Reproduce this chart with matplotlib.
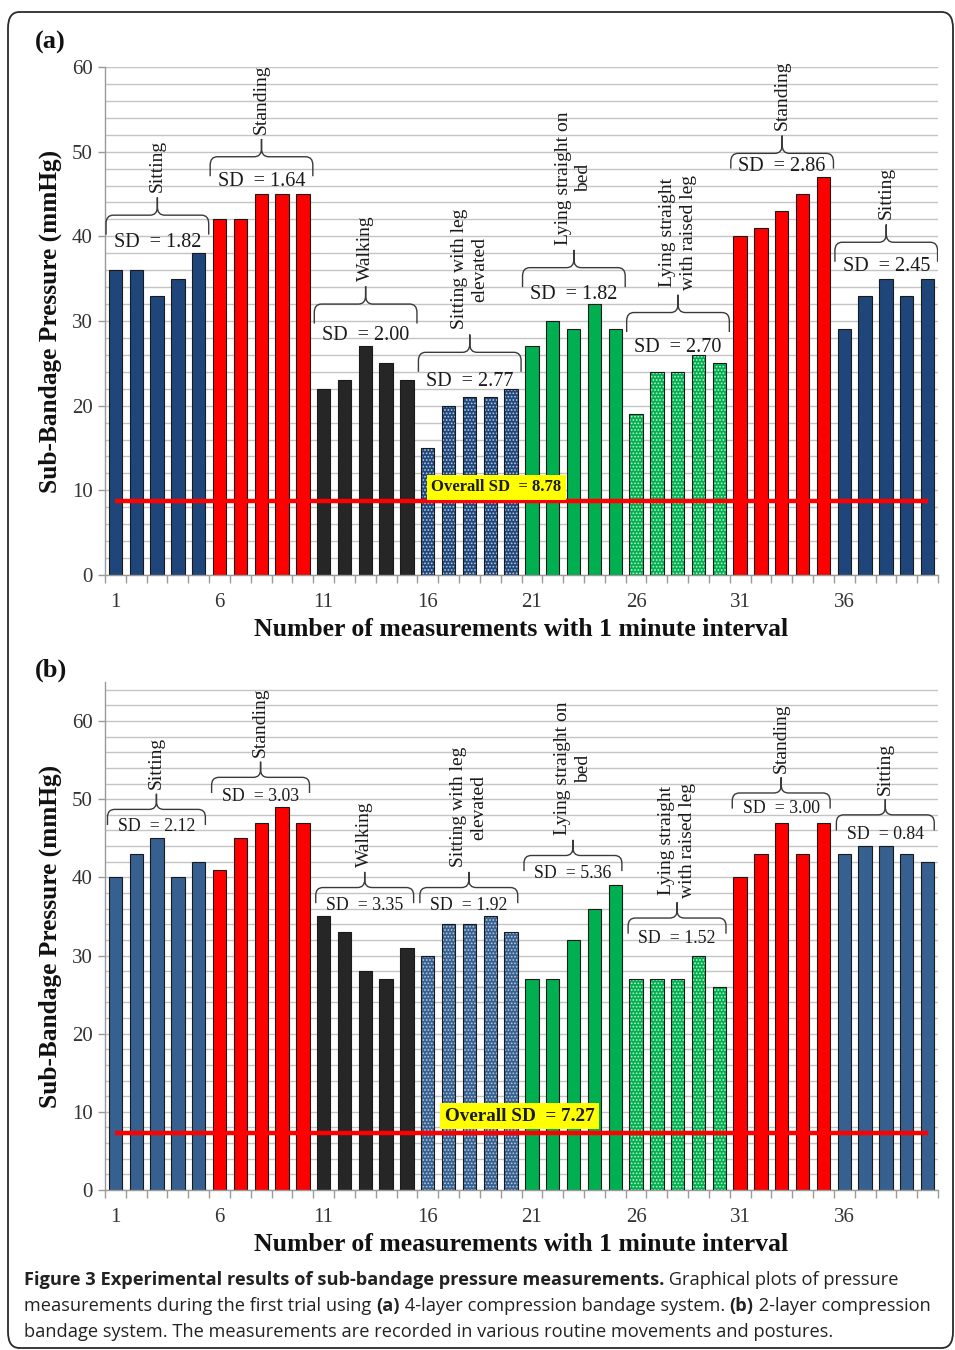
import numpy as np
import matplotlib
matplotlib.use("Agg")
import matplotlib.pyplot as plt
from matplotlib.path import Path
from matplotlib.patches import PathPatch, FancyBboxPatch

# ---------------------------------------------------------------- data
measurement = np.arange(1, 41)
postures = ["Sitting", "Standing", "Walking", "Sitting with leg\nelevated",
            "Lying straight on\nbed", "Lying straight\nwith raised leg",
            "Standing", "Sitting"]
group_size = 5

pressure_4layer = [36, 36, 33, 35, 38,
                   42, 42, 45, 45, 45,
                   22, 23, 27, 25, 23,
                   15, 20, 21, 21, 22,
                   27, 30, 29, 32, 29,
                   19, 24, 24, 26, 25,
                   40, 41, 43, 45, 47,
                   29, 33, 35, 33, 35]
pressure_2layer = [40, 43, 45, 40, 42,
                   41, 45, 47, 49, 47,
                   35, 33, 28, 27, 31,
                   30, 34, 34, 35, 33,
                   27, 27, 32, 36, 39,
                   27, 27, 27, 30, 26,
                   40, 43, 47, 43, 47,
                   43, 44, 44, 43, 42]
sd_4layer = [1.82, 1.64, 2.00, 2.77, 1.82, 2.70, 2.86, 2.45]
sd_2layer = [2.12, 3.03, 3.35, 1.92, 5.36, 1.52, 3.00, 0.84]
overall_sd_4layer = 8.78
overall_sd_2layer = 7.27
xtick_labels = ["1", "6", "11", "16", "21", "26", "31", "36"]

# ---------------------------------------------------------------- styling
W, H = 955, 1350
SERIF = ["Liberation Serif", "DejaVu Serif"]
BLUE_A = "#1F467A"
BLUE_B = "#36608F"
RED = "#FF0000"
BLACK = "#262626"
GREEN = "#00B050"
GRID = "#C4C4C4"
AXIS = "#9A9A9A"

# fill colour and whether the bar is dotted, per posture group
def group_styles(blue):
    return [(blue, False), (RED, False), (BLACK, False), (blue, True),
            (GREEN, False), (GREEN, True), (RED, False), (blue, False)]

# brace heights (y of the horizontal stroke) and SD label heights per group
brace_level_a = [42.5, 49.4, 32.0, 26.3, 36.3, 31.0, 49.8, 39.3]
sd_text_y_a = [39.3, 46.5, 28.3, 22.9, 33.1, 26.9, 48.2, 36.4]
brace_level_b = [48.7, 52.8, 38.7, 38.7, 42.8, 34.8, 50.8, 48.0]
sd_text_y_b = [46.5, 50.4, 36.4, 36.4, 40.5, 32.2, 48.8, 45.5]

plt.rcParams["font.family"] = SERIF
plt.rcParams["hatch.linewidth"] = 0.8

fig = plt.figure(figsize=(W / 100, H / 100), dpi=100)


def px_axes(left, top, right, bottom):
    return fig.add_axes([left / W, 1 - bottom / H, (right - left) / W,
                         (bottom - top) / H])


def draw_brace(ax, x0, x1, level, drop, tip, rx, ry):
    xc = 0.5 * (x0 + x1)
    verts = [(x0, level - drop), (x0, level - ry),
             (x0, level), (x0 + rx, level),
             (xc - rx, level),
             (xc, level), (xc, level + ry),
             (xc, level + tip),
             (xc, level + ry),
             (xc, level), (xc + rx, level),
             (x1 - rx, level),
             (x1, level), (x1, level - ry),
             (x1, level - drop)]
    codes = [Path.MOVETO, Path.LINETO,
             Path.CURVE3, Path.CURVE3,
             Path.LINETO,
             Path.CURVE3, Path.CURVE3,
             Path.LINETO,
             Path.LINETO,
             Path.CURVE3, Path.CURVE3,
             Path.LINETO,
             Path.CURVE3, Path.CURVE3,
             Path.LINETO]
    ax.add_patch(PathPatch(Path(verts, codes), facecolor="none",
                           edgecolor="#3A3A3A", lw=1.0, zorder=4))


def panel(ax, values, sds, overall, blue, levels, sd_y, ymax, geom, sd_fmt,
          sd_size, box_xy, box_size):
    styles = group_styles(blue)
    for g in range(len(postures)):
        idx = slice(g * group_size, (g + 1) * group_size)
        x = measurement[idx]
        v = values[idx]
        fill, dotted = styles[g]
        if dotted:
            dot = "#B9C9DD" if fill == blue else "#BFF0CC"
            ax.bar(x, v, width=0.64, color=fill, edgecolor=dot, lw=0,
                   hatch=".....", zorder=2)
            ax.bar(x, v, width=0.64, fill=False, edgecolor="#1A1A1A",
                   lw=0.8, zorder=3)
        else:
            ax.bar(x, v, width=0.64, color=fill, edgecolor="#1A1A1A",
                   lw=0.8, zorder=2)

        first, last = x[0], x[-1]
        drop, tip, rx, ry, lpad, rpad, gap = geom
        level = levels[g]
        x0, x1 = first - lpad, last + rpad
        draw_brace(ax, x0, x1, level, min(drop, level - sd_y[g] + 0.2),
                   tip, rx, ry)
        ax.text(0.5 * (x0 + x1), sd_y[g], sd_fmt.format(sds[g]),
                ha="center", va="center", fontsize=sd_size, color="#1A1A1A",
                zorder=5)
        ax.text(0.5 * (x0 + x1), level + tip + gap, postures[g],
                rotation=90, ha="center", va="bottom", multialignment="center",
                fontsize=14, color="#1A1A1A", linespacing=1.25, zorder=5)

    # overall standard deviation line
    ax.plot([measurement[0], measurement[-1]], [overall, overall],
            color=RED, lw=3.2, solid_capstyle="butt", zorder=6)
    ax.text(box_xy[0], box_xy[1], "Overall SD  = {:.2f}".format(overall),
            ha="center", va="center", fontsize=box_size, fontweight="bold",
            color="#1A1A1A", zorder=7,
            bbox=dict(boxstyle="square,pad=0.25", facecolor="#FFFF00",
                      edgecolor="none"))

    ax.set_xlim(0.5, 40.5)
    ax.set_ylim(0, ymax)
    ax.set_yticks(np.arange(0, 61, 10))
    ax.set_yticks(np.arange(0, ymax + 0.1, 2), minor=True)
    ax.yaxis.grid(True, which="both", color=GRID, lw=1.0)
    ax.set_axisbelow(True)
    ax.tick_params(axis="y", which="major", length=5, color=AXIS, width=1,
                   labelsize=15, labelcolor="#333333", pad=4)
    ax.tick_params(axis="y", which="minor", length=0)
    tick_pos = [int(t) for t in xtick_labels]
    ax.set_xticks(tick_pos)
    ax.set_xticklabels(xtick_labels)
    ax.set_xticks(np.arange(0.5, 41, 1), minor=True)
    ax.tick_params(axis="x", which="major", length=0, labelsize=15,
                   labelcolor="#333333", pad=13)
    ax.tick_params(axis="x", which="minor", length=6, color=AXIS, width=1)
    for s in ("top", "right"):
        ax.spines[s].set_visible(False)
    for s in ("left", "bottom"):
        ax.spines[s].set_color(AXIS)
        ax.spines[s].set_linewidth(1.0)

    ax.text(0.5, -0.108, "Number of measurements with 1 minute interval",
            transform=ax.transAxes, ha="center", va="center", fontsize=18.5,
            fontweight="bold", color="#111111")
    ax.text(-0.066, 0.5, "Sub-Bandage Pressure (mmHg)",
            transform=ax.transAxes, ha="center", va="center", rotation=90,
            fontsize=18.3, fontweight="bold", color="#111111")


ax_a = px_axes(105, 67, 938, 575)
panel(ax_a, pressure_4layer, sd_4layer, overall_sd_4layer, BLUE_A,
      brace_level_a, sd_text_y_a, 60,
      geom=(2.3, 2.1, 0.35, 1.0, 0.45, 0.48, 0.6),
      sd_fmt="SD  = {:.2f}", sd_size=14.5, box_xy=(19.3, 10.35), box_size=12)

ax_b = px_axes(105, 682, 938, 1190)
panel(ax_b, pressure_2layer, sd_2layer, overall_sd_2layer, BLUE_B,
      brace_level_b, sd_text_y_b, 65,
      geom=(2.0, 2.0, 0.35, 1.0, 0.38, 0.32, 0.6),
      sd_fmt="SD  = {:.2f}", sd_size=12.8, box_xy=(20.4, 9.45), box_size=13.8)

fig.text(50 / W, 1 - 42 / H, "(a)", ha="center", va="center", fontsize=19,
         fontweight="bold", color="#111111")
fig.text(51 / W, 1 - 670 / H, "(b)", ha="center", va="center", fontsize=19,
         fontweight="bold", color="#111111")

# rounded frame around the figure
fig.patches.append(FancyBboxPatch((8 / W, 2 / H), 945 / W, 1336 / H,
                                  boxstyle="round,pad=0,rounding_size=0.012",
                                  transform=fig.transFigure, facecolor="none",
                                  edgecolor="#2A2A2A", lw=1.3))

# caption with bold runs
CAP_FONT = ["Open Sans", "DejaVu Sans"]
CAP_SIZE = 13.15
caption = [
    [("Figure 3 Experimental results of sub-bandage pressure measurements.", "bold"),
     (" Graphical plots of pressure", "normal")],
    [("measurements during the first trial using ", "normal"), ("(a)", "bold"),
     (" 4-layer compression bandage system. ", "normal"), ("(b)", "bold"),
     (" 2-layer compression", "normal")],
    [("bandage system. The measurements are recorded in various routine "
      "movements and postures.", "normal")],
]
renderer = fig.canvas.get_renderer()
for row, parts in enumerate(caption):
    x = 24
    y = 1280 + 26 * row
    for txt, weight in parts:
        t = fig.text(x / W, 1 - y / H, txt, ha="left", va="center",
                     fontsize=CAP_SIZE, fontweight=weight, family=CAP_FONT,
                     color="#222222")
        x += t.get_window_extent(renderer).width

fig.savefig("out.png", dpi=100)
